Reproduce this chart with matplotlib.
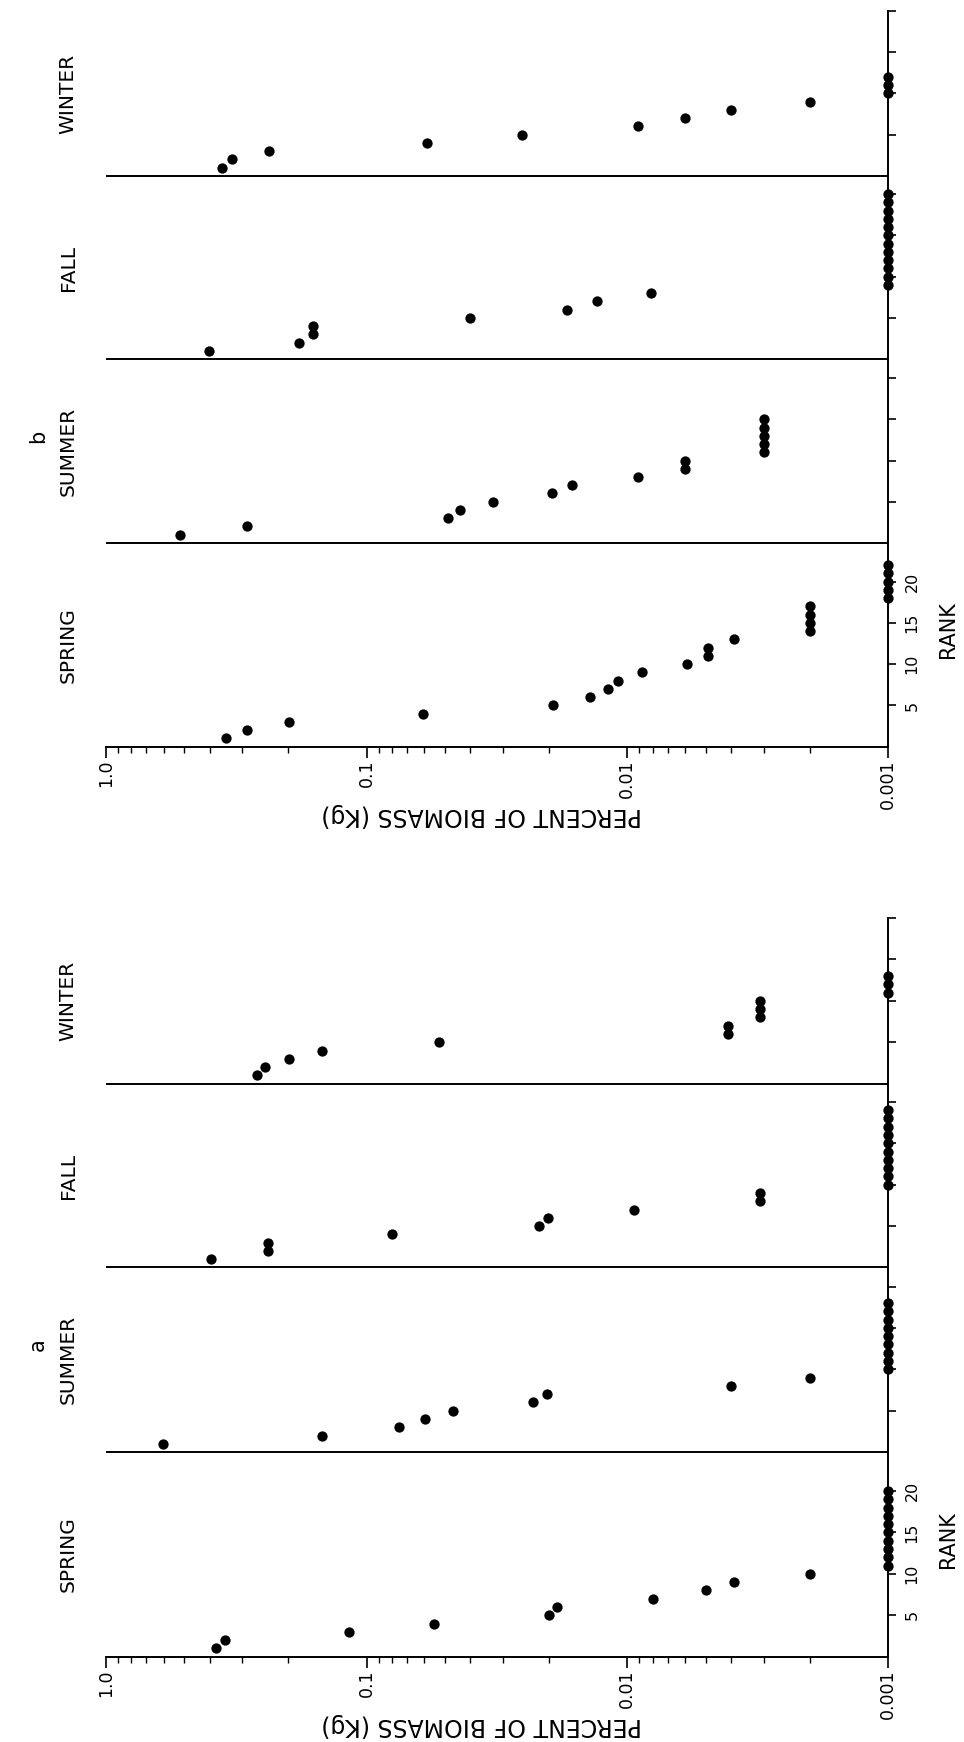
import numpy as np
import matplotlib
matplotlib.use("Agg")
import matplotlib.pyplot as plt
from matplotlib.ticker import LogLocator, NullFormatter

W, H = 964, 1742

seasons = ["SPRING", "SUMMER", "FALL", "WINTER"]

# percent of biomass (kg), species in rank order (rank 1 first)
spring_a = [0.38, 0.35, 0.117, 0.055, 0.020, 0.0186, 0.0080, 0.0050, 0.0039, 0.0020,
            0.001, 0.001, 0.001, 0.001, 0.001, 0.001, 0.001, 0.001, 0.001, 0.001]
summer_a = [0.605, 0.148, 0.075, 0.0595, 0.0465, 0.0231, 0.0203, 0.0040, 0.0020,
            0.001, 0.001, 0.001, 0.001, 0.001, 0.001, 0.001, 0.001, 0.001]
fall_a = [0.395, 0.239, 0.239, 0.0796, 0.0218, 0.0201, 0.0094, 0.0031, 0.0031,
          0.001, 0.001, 0.001, 0.001, 0.001, 0.001, 0.001, 0.001, 0.001, 0.001]
winter_a = [0.264, 0.246, 0.199, 0.148, 0.053, 0.0041, 0.0041, 0.0031, 0.0031, 0.0031,
            0.001, 0.001, 0.001]

spring_b = [0.346, 0.288, 0.199, 0.0607, 0.0192, 0.0139, 0.0119, 0.0109, 0.0088, 0.0059,
            0.0049, 0.0049, 0.0039, 0.002, 0.002, 0.002, 0.002,
            0.001, 0.001, 0.001, 0.001, 0.001]
summer_b = [0.521, 0.288, 0.0486, 0.0440, 0.0329, 0.0194, 0.0163, 0.0091, 0.0060, 0.0060,
            0.003, 0.003, 0.003, 0.003, 0.003]
fall_b = [0.403, 0.182, 0.161, 0.161, 0.0403, 0.0171, 0.0131, 0.0081,
          0.001, 0.001, 0.001, 0.001, 0.001, 0.001, 0.001, 0.001, 0.001, 0.001, 0.001, 0.001]
winter_b = [0.360, 0.328, 0.236, 0.0589, 0.0253, 0.0091, 0.0060, 0.0040, 0.0020,
            0.001, 0.001, 0.001]

rank_ticks = [5, 10, 15, 20]
pct_ticks = [1.0, 0.1, 0.01, 0.001]
pct_labels = ["1.0", "0.1", "0.01", "0.001"]

# rank-axis length given to each season block
seg_len = [24.7, 22.3, 22.2, 20.0]
seg_start = np.concatenate([[0], np.cumsum(seg_len)[:-1]])
total = sum(seg_len)


def fx(px):
    return px / W


def fy(py):
    return 1 - py / H


def draw_panel(ax, data):
    ax.set_xscale("log")
    ax.set_xlim(1.0, 0.001)
    ax.set_ylim(0, total)
    for i, vals in enumerate(data):
        ranks = np.arange(1, len(vals) + 1)
        ax.scatter(vals, seg_start[i] + ranks, s=55, color="black", linewidths=0,
                   zorder=3, clip_on=False)
        if i > 0:
            ax.axhline(seg_start[i], color="black", lw=1.4)

    for side in ["left", "top"]:
        ax.spines[side].set_visible(False)
    for side in ["bottom", "right"]:
        ax.spines[side].set_linewidth(1.4)

    ax.set_xticks(pct_ticks)
    ax.set_xticklabels(pct_labels, rotation=90)
    ax.xaxis.set_minor_locator(LogLocator(base=10, subs=np.arange(2, 10)))
    ax.xaxis.set_minor_formatter(NullFormatter())
    ax.tick_params(axis="x", which="major", direction="out", length=8, width=1.2,
                   labelsize=12.5, pad=1)
    ax.tick_params(axis="x", which="minor", direction="out", length=4, width=1.0)

    ax.yaxis.tick_right()
    ypos = [seg_start[i] + t for i in range(4) for t in rank_ticks]
    ylab = [str(t) if i == 0 else "" for i in range(4) for t in rank_ticks]
    ax.set_yticks(ypos)
    ax.set_yticklabels(ylab)
    ax.tick_params(axis="y", direction="out", length=6, width=1.2, labelsize=11.5,
                   labelrotation=90, pad=6)
    for lab in ax.get_yticklabels():
        lab.set_verticalalignment("center")


fig = plt.figure(figsize=(W / 100, H / 100), dpi=100)

# panel b (top) and panel a (bottom): pixel rows of the axes top and bottom
panels = [
    ("b", [spring_b, summer_b, fall_b, winter_b], 11, 746.7),
    ("a", [spring_a, summer_a, fall_a, winter_a], 918, 1656.7),
]

for tag, data, top, bottom in panels:
    ax = fig.add_axes([fx(106), fy(bottom), fx(888) - fx(106), fy(top) - fy(bottom)])
    draw_panel(ax, data)
    scale = (bottom - top) / total
    for i, name in enumerate(seasons):
        yc = bottom - (seg_start[i] + seg_len[i] / 2) * scale
        fig.text(fx(68), fy(yc), name, rotation=90, ha="center", va="center", fontsize=14.5)
    y_tag = bottom - (seg_start[1] + seg_len[1] / 2) * scale - 15
    fig.text(fx(38), fy(y_tag), tag, rotation=90, ha="center", va="center", fontsize=15)
    fig.text(fx(948), fy(bottom - 117), "RANK", rotation=90, ha="center", va="center",
             fontsize=15)
    fig.text(fx(482), fy(bottom + 68), "PERCENT OF BIOMASS (Kg)", rotation=180,
             ha="center", va="center", fontsize=17)

fig.savefig("out.png", dpi=100, facecolor="white")
